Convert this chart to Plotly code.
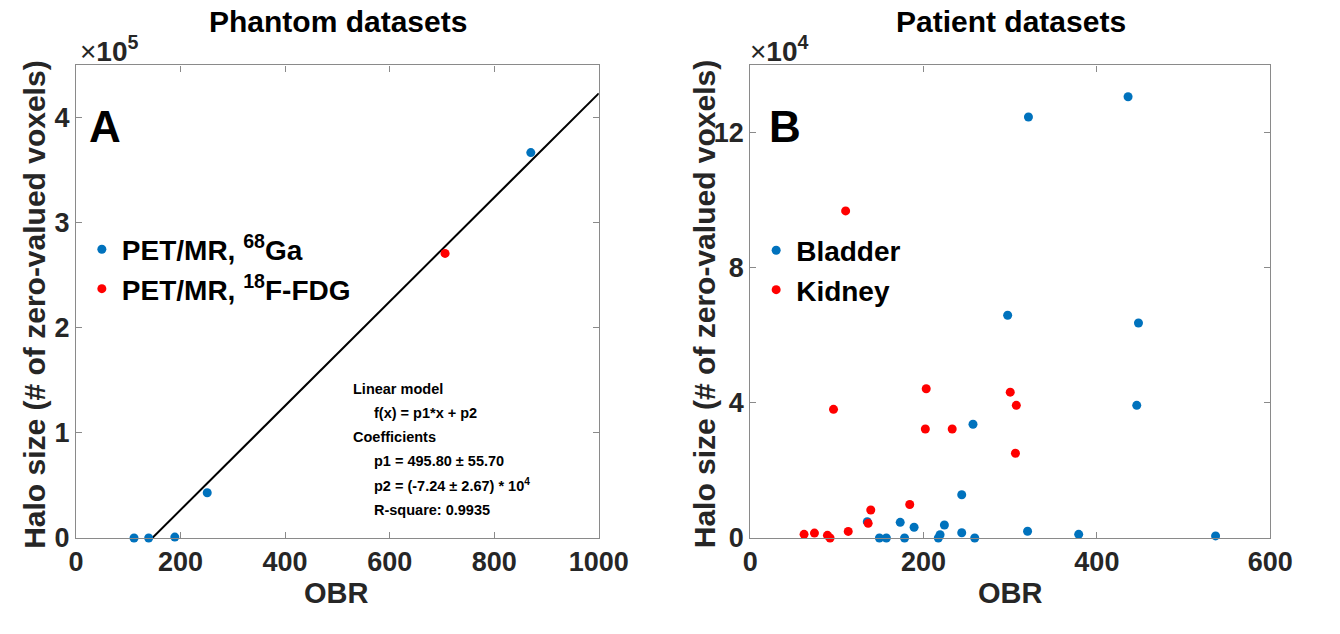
import plotly.graph_objects as go

# ---------------- data ----------------
phantom_ga_obr = [111, 139, 189, 251, 870]
phantom_ga_halo = [0, 0, 800, 43000, 367000]
phantom_fdg_obr = [706]
phantom_fdg_halo = [271000]

fit_p1 = 495.80
fit_p2 = -72400.0
fit_x_max = 1000

bladder_obr = [135, 149, 157, 173, 178, 189, 217, 219, 224, 244, 244, 257, 259,
               297, 320, 321, 379, 436, 446, 448, 537]
bladder_halo = [4830, 0, 0, 4630, 0, 3180, 0, 950, 3850, 12800, 1530, 33700, 0,
                66000, 2000, 124700, 1070, 130700, 39300, 63700, 600]
kidney_obr = [62, 74, 89, 92, 96, 110, 113, 136, 139, 184, 202, 203, 233, 300, 306, 307]
kidney_halo = [1070, 1450, 780, 0, 38100, 96900, 1940, 4340, 8300, 9900, 32300,
               44200, 32300, 43200, 25100, 39300]

a_xticks = [0, 200, 400, 600, 800, 1000]
a_yticks = [0, 100000, 200000, 300000, 400000]
a_yticktext = ["0", "1", "2", "3", "4"]
b_xticks = [0, 200, 400, 600]
b_yticks = [0, 40000, 80000, 120000]
b_yticktext = ["0", "4", "8", "12"]

# ---------------- style ----------------
W, H = 1340, 634
FONT = "Liberation Sans"
BLUE = "#0072BD"
RED = "#FF0000"
AXC = "#8a8a8a"


def px(x):
    return x / W


def py(y):
    return 1 - y / H


fit_x0 = -fit_p2 / fit_p1
fit_x = [fit_x0, fit_x_max]
fit_y = [fit_p1 * v + fit_p2 for v in fit_x]

mk = dict(symbol="circle", size=9, line=dict(width=0))

fig = go.Figure()
fig.add_trace(go.Scatter(x=fit_x, y=fit_y, mode="lines", line=dict(color="black", width=2),
                         showlegend=False, xaxis="x", yaxis="y", cliponaxis=False))
fig.add_trace(go.Scatter(x=phantom_ga_obr, y=phantom_ga_halo, mode="markers",
                         marker=dict(color=BLUE, **mk), name="PET/MR, <sup>68</sup>Ga",
                         xaxis="x", yaxis="y", legend="legend", cliponaxis=False))
fig.add_trace(go.Scatter(x=phantom_fdg_obr, y=phantom_fdg_halo, mode="markers",
                         marker=dict(color=RED, **mk), name="PET/MR, <sup>18</sup>F-FDG",
                         xaxis="x", yaxis="y", legend="legend", cliponaxis=False))
fig.add_trace(go.Scatter(x=bladder_obr, y=bladder_halo, mode="markers",
                         marker=dict(color=BLUE, **mk), name="Bladder",
                         xaxis="x2", yaxis="y2", legend="legend2", cliponaxis=False))
fig.add_trace(go.Scatter(x=kidney_obr, y=kidney_halo, mode="markers",
                         marker=dict(color=RED, **mk), name="Kidney",
                         xaxis="x2", yaxis="y2", legend="legend2", cliponaxis=False))

tickfont = dict(family=FONT, size=27, color="#262626", weight="bold")
common = dict(showline=True, mirror="ticks", linecolor=AXC, linewidth=1.2,
              ticks="inside", tickcolor=AXC, ticklen=6, tickwidth=1.2,
              showgrid=False, zeroline=False, tickfont=tickfont, fixedrange=True)

legfont = dict(family=FONT, size=28, color="black", weight="bold")
ydom = [py(551), py(67)]
fig.update_layout(
    width=W, height=H,
    margin=dict(l=0, r=0, t=0, b=0),
    paper_bgcolor="white", plot_bgcolor="white",
    xaxis=dict(domain=[px(70), px(608)], range=[0, 1000], tickvals=a_xticks,
               anchor="y", **common),
    yaxis=dict(domain=ydom, range=[0, 450000], tickvals=a_yticks, ticktext=a_yticktext,
               anchor="x", **common),
    xaxis2=dict(domain=[px(764), px(1299)], range=[0, 600], tickvals=b_xticks,
                anchor="y2", **common),
    yaxis2=dict(domain=ydom, range=[0, 140000], tickvals=b_yticks, ticktext=b_yticktext,
                anchor="x2", **common),
    legend=dict(x=px(76), y=py(230), xanchor="left", yanchor="top",
                bgcolor="rgba(0,0,0,0)", font=legfont, itemwidth=30, tracegroupgap=0),
    legend2=dict(x=px(770), y=py(231), xanchor="left", yanchor="top",
                 bgcolor="rgba(0,0,0,0)", font=legfont, itemwidth=30, tracegroupgap=0),
    showlegend=True,
)

ann = []


def text(x, y, s, size, xanchor="center", angle=0, color="black"):
    ann.append(dict(x=px(x), y=py(y), xref="paper", yref="paper", text=s, showarrow=False,
                    xanchor=xanchor, yanchor="middle", textangle=angle,
                    font=dict(family=FONT, size=size, color=color, weight="bold")))


text(340, 22, "Phantom datasets", 30)
text(1032, 22, "Patient datasets", 30)
text(338, 607, "OBR", 29, color="#262626")
text(1032, 607, "OBR", 29, color="#262626")
text(27, 312, "Halo size (# of zero-valued voxels)", 30, angle=-90, color="#262626")
text(717, 312, "Halo size (# of zero-valued voxels)", 30, angle=-90, color="#262626")
text(72, 50, "<span style='font-weight:normal'>×</span>10<sup>5</sup>", 28,
     xanchor="left", color="#262626")
text(762, 50, "<span style='font-weight:normal'>×</span>10<sup>4</sup>", 28,
     xanchor="left", color="#262626")
text(100, 130, "A", 44)
text(800, 130, "B", 44)

fit_lines = [
    (353, 398, "Linear model"),
    (375, 423, "f(x) = p1*x + p2"),
    (353, 448, "Coefficients"),
    (375, 472, "p1 = 495.80 ± 55.70"),
    (375, 497, "p2 = (-7.24 ± 2.67) * 10<sup>4</sup>"),
    (375, 522, "R-square: 0.9935"),
]
for x, y, s in fit_lines:
    text(x, y, s, 14.5, xanchor="left")

fig.update_layout(annotations=ann)
fig.write_html("out.html")
